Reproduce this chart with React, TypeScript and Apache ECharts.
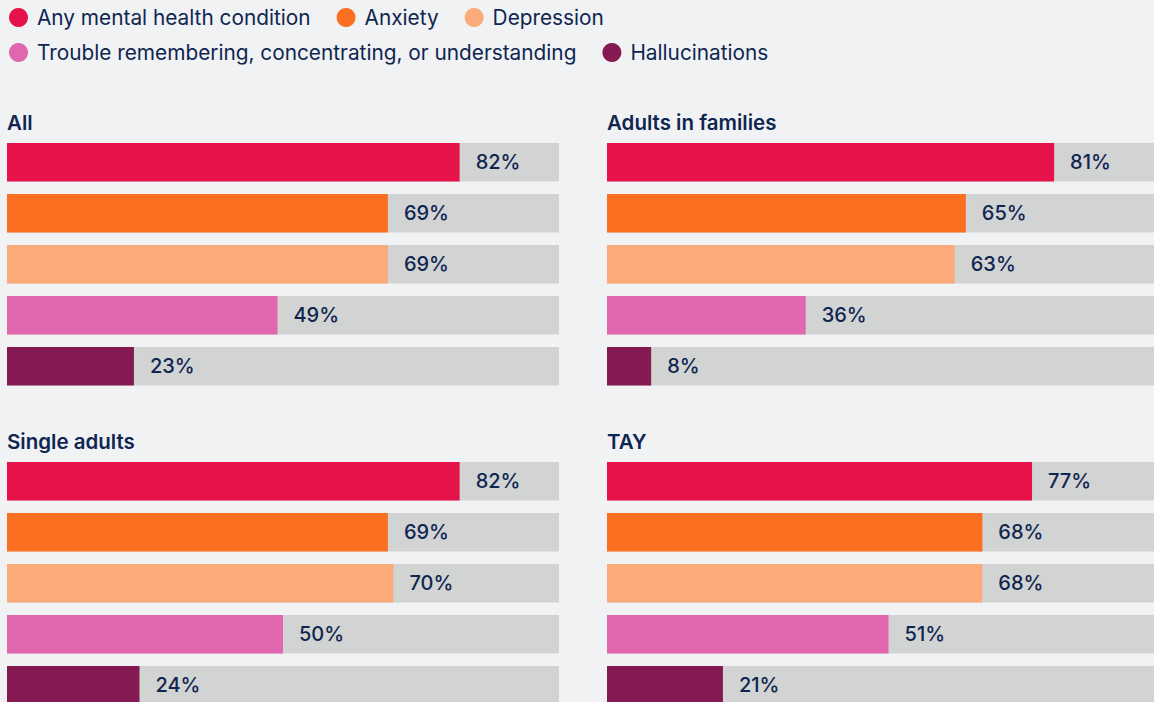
import React, { useEffect, useRef } from "react";
import * as echarts from "echarts";

const conditions = [
  "Any mental health condition",
  "Anxiety",
  "Depression",
  "Trouble remembering, concentrating, or understanding",
  "Hallucinations",
];
const colors = ["#E5134A", "#FA6F20", "#FBAA7A", "#E067AE", "#841A51"];

const panelTitles = ["All", "Adults in families", "Single adults", "TAY"];
const allValues = [82, 69, 69, 49, 23];
const familiesValues = [81, 65, 63, 36, 8];
const singleValues = [82, 69, 70, 50, 24];
const tayValues = [77, 68, 68, 51, 21];
const panelValues = [allValues, familiesValues, singleValues, tayValues];

const FONT = "Inter, 'Liberation Sans', Arial, sans-serif";
const TEXT = "#0F2650";

export default function App() {
  const ref = useRef<HTMLDivElement>(null);
  useEffect(() => {
    if (!ref.current) return;
    const chart = echarts.init(ref.current, undefined, { renderer: "svg" });
    const lefts = [7, 607, 7, 607];
    const tops = [136.8, 136.8, 455.7, 455.7];
    const grids = panelTitles.map((_, i) => ({
      left: lefts[i],
      top: tops[i],
      width: 552,
      height: 255,
      containLabel: false,
    }));
    const xAxes = panelTitles.map((_, i) => ({
      type: "value",
      gridIndex: i,
      min: 0,
      max: 100,
      show: false,
    }));
    const yAxes = panelTitles.map((_, i) => ({
      type: "category",
      gridIndex: i,
      data: conditions,
      inverse: true,
      show: false,
    }));
    const barSeries = panelValues.map((vals, i) => ({
      type: "bar",
      name: panelTitles[i],
      xAxisIndex: i,
      yAxisIndex: i,
      barWidth: 38.5,
      showBackground: true,
      backgroundStyle: { color: "#D2D3D3" },
      data: vals.map((v, j) => ({ value: v, itemStyle: { color: colors[j] } })),
      label: {
        show: true,
        position: "right",
        distance: 16,
        formatter: "{c}%",
        color: TEXT,
        fontSize: 20,
        fontFamily: FONT,
        fontWeight: 500,
      },
      silent: true,
    }));
    const legendSeries = conditions.map((c, j) => ({
      type: "scatter",
      name: c,
      xAxisIndex: 0,
      yAxisIndex: 0,
      data: [],
      itemStyle: { color: colors[j], opacity: 1 },
    }));
    const legendCommon = {
      icon: "circle",
      itemWidth: 19,
      itemHeight: 19,
      itemGap: 26,
      padding: 0,
      itemStyle: { opacity: 1 },
      textStyle: {
        color: TEXT,
        fontSize: 20.8,
        fontFamily: FONT,
        padding: [0, 0, 0, 4],
      },
      selectedMode: false,
    };
    const titleOffsets = [123, 123, 442, 442];
    chart.setOption({
      animation: false,
      backgroundColor: "#F1F2F4",
      legend: [
        { ...legendCommon, left: 9, top: 7, data: conditions.slice(0, 3) },
        { ...legendCommon, left: 9, top: 42, data: conditions.slice(3) },
      ],
      title: panelTitles.map((t, i) => ({
        text: t,
        left: lefts[i],
        top: titleOffsets[i] - 11,
        padding: 0,
        textStyle: {
          color: TEXT,
          fontSize: 20.5,
          fontFamily: FONT,
          fontWeight: 600,
        },
      })),
      grid: grids,
      xAxis: xAxes,
      yAxis: yAxes,
      series: [...barSeries, ...legendSeries],
    });
    return () => chart.dispose();
  }, []);
  return (
    <div
      style={{
        position: "fixed",
        left: 0,
        top: 0,
        width: 1154,
        height: 702,
        overflow: "hidden",
        background: "#F1F2F4",
      }}
    >
      <div ref={ref} style={{ width: 1170, height: 720 }} />
    </div>
  );
}
